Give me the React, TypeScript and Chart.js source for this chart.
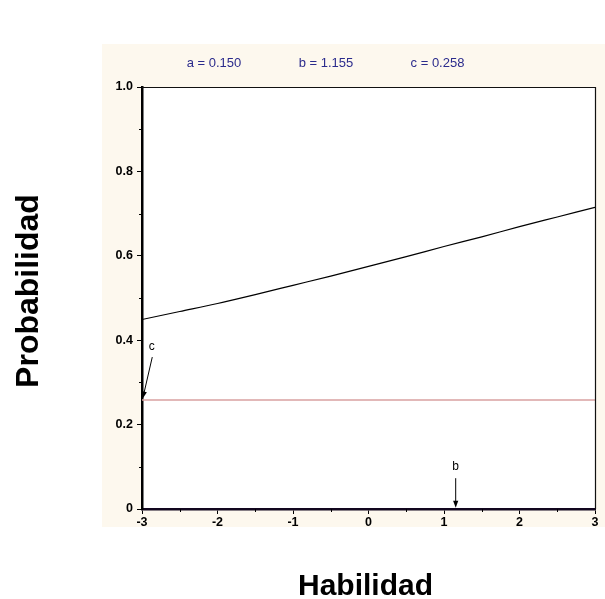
import React, { useEffect, useRef } from 'react';
import { Chart, registerables } from 'chart.js';

Chart.register(...registerables);

// Item parameters (3PL)
const paramA = 0.15;
const paramB = 1.155;
const paramC = 0.258;

// Item characteristic curve
const theta = [-3, -2.5, -2, -1.5, -1, -0.5, 0, 0.5, 1, 1.5, 2, 2.5, 3];
const prob = [0.449, 0.468, 0.487, 0.508, 0.53, 0.552, 0.575, 0.598, 0.622, 0.645, 0.669, 0.692, 0.715];

// Guessing (c) asymptote
const guessTheta = [-3, 3];
const guessProb = [paramC, paramC];

// Ticks
const xMinorTicks = [-2.5, -1.5, -0.5, 0.5, 1.5, 2.5];
const yMinorTicks = [0.1, 0.3, 0.5, 0.7, 0.9];

const paramLabels = [
  `a = ${paramA.toFixed(3)}`,
  `b = ${paramB.toFixed(3)}`,
  `c = ${paramC.toFixed(3)}`,
];

const xTitle = 'Habilidad';
const yTitle = 'Probabilidad';

const FONT = "Arial, 'Liberation Sans', Helvetica, sans-serif";

function arrow(ctx: CanvasRenderingContext2D, x1: number, y1: number, x2: number, y2: number) {
  const ang = Math.atan2(y2 - y1, x2 - x1);
  const hl = 7;
  const hw = 2.6;
  ctx.save();
  ctx.strokeStyle = '#000';
  ctx.fillStyle = '#000';
  ctx.lineWidth = 1;
  ctx.beginPath();
  ctx.moveTo(x1, y1);
  ctx.lineTo(x2 - Math.cos(ang) * hl * 0.8, y2 - Math.sin(ang) * hl * 0.8);
  ctx.stroke();
  ctx.beginPath();
  ctx.moveTo(x2, y2);
  ctx.lineTo(x2 - Math.cos(ang) * hl - Math.sin(ang) * hw, y2 - Math.sin(ang) * hl + Math.cos(ang) * hw);
  ctx.lineTo(x2 - Math.cos(ang) * hl + Math.sin(ang) * hw, y2 - Math.sin(ang) * hl - Math.cos(ang) * hw);
  ctx.closePath();
  ctx.fill();
  ctx.restore();
}

const decorPlugin = {
  id: 'decor',
  beforeDraw(chart: any) {
    const { ctx, width, height, chartArea } = chart;
    ctx.save();
    ctx.fillStyle = '#ffffff';
    ctx.fillRect(0, 0, width, height);
    ctx.fillStyle = '#fdf8ee';
    ctx.fillRect(102, 44, width - 102, 483);
    ctx.fillStyle = '#ffffff';
    ctx.fillRect(chartArea.left, chartArea.top, chartArea.right - chartArea.left, chartArea.bottom - chartArea.top);
    ctx.restore();
  },
  afterDraw(chart: any) {
    const { ctx, chartArea } = chart;
    const xs = chart.scales.x;
    const ys = chart.scales.y;
    ctx.save();
    // top & right frame
    ctx.strokeStyle = '#111';
    ctx.lineWidth = 1.2;
    ctx.beginPath();
    ctx.moveTo(chartArea.left, chartArea.top + 0.5);
    ctx.lineTo(chartArea.right + 0.5, chartArea.top + 0.5);
    ctx.lineTo(chartArea.right + 0.5, chartArea.bottom);
    ctx.stroke();

    // minor ticks
    ctx.strokeStyle = '#000';
    ctx.lineWidth = 1;
    ctx.beginPath();
    yMinorTicks.forEach((v) => {
      const y = Math.round(ys.getPixelForValue(v)) + 0.5;
      ctx.moveTo(chartArea.left - 3, y);
      ctx.lineTo(chartArea.left, y);
    });
    xMinorTicks.forEach((v) => {
      const x = Math.round(xs.getPixelForValue(v)) + 0.5;
      ctx.moveTo(x, chartArea.bottom);
      ctx.lineTo(x, chartArea.bottom + 3);
    });
    ctx.stroke();

    // annotations
    ctx.fillStyle = '#000';
    ctx.font = `12px ${FONT}`;
    ctx.textAlign = 'center';
    ctx.textBaseline = 'middle';
    // c
    ctx.fillText('c', xs.getPixelForValue(-2.87), ys.getPixelForValue(paramC + 0.126));
    arrow(
      ctx,
      xs.getPixelForValue(-2.864),
      ys.getPixelForValue(paramC + 0.102),
      xs.getPixelForValue(-2.99),
      ys.getPixelForValue(paramC + 0.004)
    );
    // b
    const bx = xs.getPixelForValue(paramB);
    ctx.fillText('b', bx, ys.getPixelForValue(0.1));
    arrow(ctx, bx, ys.getPixelForValue(0.073), bx, ys.getPixelForValue(0.003));

    // parameter labels
    ctx.fillStyle = '#2b2b8c';
    ctx.font = `13px ${FONT}`;
    const centers = [214, 326, 437.5];
    paramLabels.forEach((t, i) => ctx.fillText(t, centers[i], 63.5));

    // axis titles
    ctx.fillStyle = '#000';
    ctx.font = `bold 30px ${FONT}`;
    ctx.textBaseline = 'alphabetic';
    ctx.fillText(xTitle, 365.5, 595);
    ctx.save();
    ctx.translate(38, 291);
    ctx.rotate(-Math.PI / 2);
    ctx.font = `bold 32px ${FONT}`;
    ctx.fillText(yTitle, 0, 0);
    ctx.restore();
    ctx.restore();
  },
};

export default function App() {
  const ref = useRef<HTMLCanvasElement | null>(null);
  useEffect(() => {
    if (!ref.current) return;
    const tickFont = { family: FONT, weight: 'bold' as const, size: 12.5 };
    const chart = new Chart(ref.current, {
      type: 'scatter',
      data: {
        datasets: [
          {
            label: 'P(θ)',
            data: theta.map((x, i) => ({ x, y: prob[i] })),
            showLine: true,
            borderColor: '#000',
            borderWidth: 1.2,
            pointRadius: 0,
            cubicInterpolationMode: 'monotone',
          },
          {
            label: 'c',
            data: guessTheta.map((x, i) => ({ x, y: guessProb[i] })),
            showLine: true,
            borderColor: '#d9a0a0',
            borderWidth: 1.5,
            pointRadius: 0,
          },
        ],
      },
      options: {
        animation: false,
        responsive: false,
        maintainAspectRatio: false,
        layout: { padding: { top: 87, right: 10, left: 0, bottom: 0 } },
        plugins: { legend: { display: false }, tooltip: { enabled: false } },
        scales: {
          x: {
            type: 'linear',
            min: -3,
            max: 3,
            afterFit: (s: any) => {
              s.height = 90;
            },
            ticks: {
              stepSize: 1,
              font: tickFont,
              color: '#000',
              padding: 1,
              maxRotation: 0,
              autoSkip: false,
              callback: (v: any) => String(v),
            },
            grid: { drawOnChartArea: false, tickLength: 5, color: '#000', tickColor: '#000', tickWidth: 1 },
            border: { display: true, color: '#12061f', width: 2.5 },
          },
          y: {
            type: 'linear',
            min: 0,
            max: 1,
            afterFit: (s: any) => {
              s.width = 142;
            },
            ticks: {
              stepSize: 0.2,
              font: tickFont,
              color: '#000',
              padding: 4,
              autoSkip: false,
              callback: (v: any) => (Number(v) === 0 ? '0' : Number(v).toFixed(1)),
            },
            grid: { drawOnChartArea: false, tickLength: 5, color: '#000', tickColor: '#000', tickWidth: 1 },
            border: { display: true, color: '#000', width: 2.5 },
          },
        },
      },
      plugins: [decorPlugin],
    });
    return () => chart.destroy();
  }, []);
  return (
    <div style={{ position: 'absolute', left: 0, top: 0, width: 605, height: 599 }}>
      <canvas ref={ref} width={605} height={599} style={{ width: 605, height: 599, display: 'block' }} />
    </div>
  );
}
